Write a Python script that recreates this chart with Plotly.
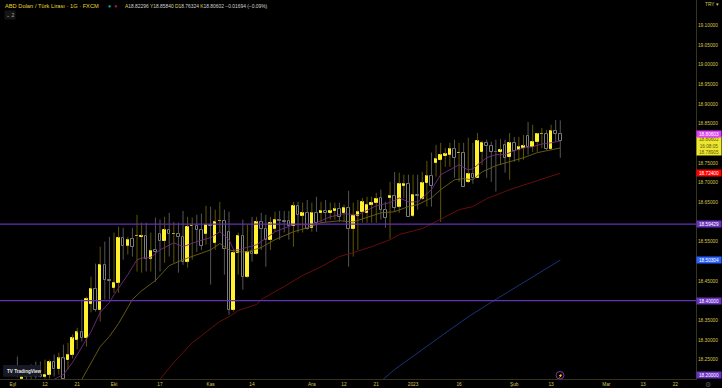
import plotly.graph_objects as go

bar_index = list(range(-6, 113))
opens = [18.212,18.202,18.207,18.210,18.210,18.210,18.207,18.212,18.245,18.225,18.253,18.248,18.263,18.301,18.319,18.306,18.392,18.430,18.377,18.491,
18.453,18.433,18.446,18.560,18.540,18.557,18.563,18.562,18.565,18.507,18.529,18.570,18.552,18.580,18.569,18.570,18.562,18.499,18.589,18.590,
18.580,18.570,18.593,18.547,18.602,18.603,18.575,18.377,18.522,18.565,18.461,18.524,18.519,18.600,18.583,18.555,18.583,18.604,18.603,18.603,
18.590,18.641,18.616,18.623,18.585,18.623,18.623,18.628,18.623,18.628,18.633,18.623,18.636,18.583,18.616,18.626,18.623,18.644,18.649,18.661,
18.631,18.661,18.667,18.639,18.692,18.697,18.616,18.669,18.659,18.699,18.717,18.750,18.758,18.768,18.771,18.786,18.774,18.776,18.702,18.722,
18.712,18.778,18.801,18.793,18.778,18.778,18.796,18.765,18.801,18.783,18.788,18.819,18.791,18.804,18.823,18.824,18.786,18.831,18.823]
highs = [18.258,18.220,18.235,18.238,18.245,18.245,18.250,18.250,18.263,18.268,18.288,18.293,18.314,18.331,18.403,18.410,18.461,18.494,18.537,18.550,
18.562,18.573,18.588,18.585,18.562,18.585,18.618,18.598,18.598,18.573,18.611,18.606,18.613,18.623,18.600,18.598,18.628,18.613,18.611,18.618,
18.621,18.641,18.639,18.631,18.651,18.631,18.626,18.529,18.573,18.606,18.593,18.613,18.613,18.623,18.618,18.613,18.626,18.628,18.628,18.628,
18.651,18.651,18.649,18.656,18.649,18.664,18.651,18.656,18.649,18.649,18.649,18.644,18.679,18.649,18.656,18.661,18.664,18.664,18.674,18.682,
18.651,18.702,18.727,18.725,18.720,18.720,18.720,18.720,18.727,18.755,18.776,18.796,18.801,18.788,18.801,18.809,18.801,18.801,18.814,18.801,
18.826,18.806,18.809,18.804,18.809,18.811,18.809,18.826,18.816,18.816,18.821,18.854,18.847,18.826,18.839,18.834,18.847,18.859,18.858]
lows = [18.205,18.200,18.200,18.200,18.202,18.205,18.202,18.202,18.207,18.212,18.200,18.225,18.253,18.276,18.296,18.283,18.370,18.372,18.347,18.403,
18.403,18.420,18.420,18.504,18.517,18.512,18.474,18.471,18.474,18.474,18.448,18.474,18.496,18.512,18.496,18.471,18.491,18.484,18.504,18.524,
18.529,18.542,18.441,18.529,18.573,18.466,18.364,18.372,18.466,18.428,18.458,18.499,18.517,18.529,18.486,18.529,18.575,18.555,18.573,18.555,
18.537,18.573,18.573,18.580,18.575,18.575,18.598,18.600,18.606,18.606,18.600,18.600,18.486,18.512,18.529,18.598,18.598,18.598,18.598,18.606,
18.585,18.557,18.626,18.623,18.661,18.613,18.613,18.631,18.656,18.639,18.639,18.715,18.600,18.740,18.740,18.712,18.702,18.689,18.699,18.697,
18.712,18.745,18.712,18.702,18.677,18.745,18.725,18.707,18.753,18.753,18.758,18.771,18.778,18.778,18.788,18.783,18.783,18.804,18.763]
closes = [18.210,18.207,18.205,18.205,18.207,18.207,18.212,18.243,18.225,18.253,18.202,18.263,18.304,18.319,18.306,18.405,18.430,18.377,18.491,18.453,
18.451,18.446,18.560,18.540,18.555,18.537,18.565,18.565,18.507,18.527,18.524,18.552,18.580,18.570,18.570,18.562,18.499,18.588,18.590,18.580,
18.540,18.593,18.590,18.600,18.603,18.532,18.377,18.522,18.565,18.461,18.524,18.519,18.600,18.583,18.555,18.598,18.606,18.602,18.600,18.590,
18.641,18.618,18.623,18.583,18.623,18.598,18.628,18.623,18.628,18.633,18.613,18.636,18.583,18.616,18.626,18.651,18.644,18.649,18.659,18.631,
18.611,18.667,18.636,18.697,18.697,18.613,18.669,18.667,18.699,18.717,18.692,18.760,18.771,18.773,18.786,18.763,18.776,18.689,18.722,18.712,
18.806,18.801,18.793,18.778,18.777,18.783,18.763,18.801,18.781,18.791,18.793,18.791,18.804,18.824,18.824,18.786,18.831,18.824,18.806]

ema_fast_x = [2,4,6,8,10,12,14,15,18,20,21,23,25,28,30,33,36,38,40,41,42,46,50,54,58,62,65,68,72,75,77,79,81,82,84,86,88,90,92,93,94,96,98,100,102,104,106,108,110,112]
ema_fast_y = [18.200,18.212,18.243,18.283,18.321,18.370,18.395,18.415,18.466,18.504,18.508,18.510,18.529,18.547,18.537,18.550,18.560,18.575,18.555,18.529,18.529,18.542,18.575,18.593,18.593,18.613,18.621,18.618,18.641,18.649,18.661,18.651,18.651,18.661,18.682,18.720,18.732,18.745,18.732,18.735,18.745,18.763,18.771,18.771,18.781,18.788,18.791,18.798,18.801,18.806]
ema_mid_x = [8,10,12,14,16,19,21,24,27,30,33,36,38,40,42,44,47,50,54,57,60,64,67,70,73,76,79,81,84,86,89,91,93,95,98,101,104,107,110,112]
ema_mid_y = [18.200,18.243,18.283,18.309,18.342,18.403,18.425,18.451,18.489,18.504,18.517,18.529,18.545,18.529,18.524,18.524,18.535,18.555,18.575,18.585,18.598,18.603,18.600,18.611,18.623,18.626,18.639,18.644,18.661,18.682,18.707,18.710,18.707,18.727,18.743,18.753,18.763,18.776,18.783,18.788]
ema_slow_x = [25,28,32,35,38,40,42,46,47,52,56,60,64,67,71,75,77,82,84,86,90,93,96,101,106,112]
ema_slow_y = [18.200,18.243,18.293,18.321,18.347,18.359,18.375,18.390,18.403,18.436,18.464,18.486,18.512,18.522,18.537,18.555,18.568,18.583,18.595,18.605,18.631,18.639,18.659,18.682,18.702,18.724]
ema_long_x = [73.5,76,88,92.4,97,105,112]
ema_long_y = [18.200,18.225,18.326,18.362,18.396,18.453,18.503]

level_lines = [18.59429, 18.40000]
y_ticks = [18.25,18.30,18.35,18.45,18.55,18.65,18.70,18.75,18.85,18.90,18.95,19.00,19.05,19.10]
x_tick_pos = [-7,0,7,15,25,36,45,58,65,72,80,90,102,110,122,130,137]
x_tick_text = ["Eyl","12","21","Eki","17","Kas","14","Ara","12","21","2023","16","Şub","13","Mar","13","22"]

BG = "#000000"
YEL = "#fff12b"
TICK = "#d6c64a"
AX = "#37321a"
FONT = "Liberation Sans"

ups = [c >= o for o, c in zip(opens, closes)]

def wicks(want_up):
    xs, ys = [], []
    for x, o, h, l, c, u in zip(bar_index, opens, highs, lows, closes, ups):
        if u == want_up:
            top, bot = max(o, c), min(o, c)
            xs += [x, x, None, x, x, None]
            ys += [h, top, None, bot, l, None]
    return xs, ys

fig = go.Figure()
for up, col in ((True, "#5f5500"), (False, "#555555")):
    wx, wy = wicks(up)
    fig.add_trace(go.Scatter(x=wx, y=wy, mode="lines", line=dict(color=col, width=1), hoverinfo="skip", showlegend=False))

for want_up, fill, edge in ((True, YEL, YEL), (False, "#000000", "#7d7d7d")):
    idx = [k for k, u in enumerate(ups) if u == want_up]
    fig.add_trace(go.Bar(
        x=[bar_index[k] for k in idx],
        y=[abs(closes[k] - opens[k]) for k in idx],
        base=[min(opens[k], closes[k]) for k in idx],
        width=0.55,
        marker=dict(color=fill, line=dict(color=edge, width=1)),
        hoverinfo="skip", showlegend=False))

for xs, ys, col in ((ema_long_x, ema_long_y, "#1a3a85"), (ema_slow_x, ema_slow_y, "#701010"),
                    (ema_mid_x, ema_mid_y, "#6e6219"), (ema_fast_x, ema_fast_y, "#742a82")):
    fig.add_trace(go.Scatter(x=xs, y=ys, mode="lines", line=dict(color=col, width=0.9), hoverinfo="skip", showlegend=False))

shapes = [dict(type="line", xref="paper", x0=0, x1=1, yref="y", y0=v, y1=v,
               line=dict(color="#6430b4", width=1.2), layer="above") for v in level_lines]
shapes += [
    dict(type="rect", xref="x", yref="paper", x0=-9.1, x1=-1.0, y0=0.006, y1=0.037, fillcolor="#171a26", line_width=0, layer="above"),
]
fig.update_layout(
    width=722, height=388, margin=dict(l=0, r=26, t=0, b=9),
    paper_bgcolor=BG, plot_bgcolor=BG, barmode="overlay", bargap=0, showlegend=False,
    font=dict(family=FONT, size=4.6, color=TICK), hovermode=False, shapes=shapes,
    xaxis=dict(range=[-9.78, 141.5], tickmode="array", tickvals=x_tick_pos, ticktext=x_tick_text,
               showgrid=False, zeroline=False, showline=True, linecolor=AX, linewidth=1, ticks="", tickangle=0,
               tickfont=dict(size=4.8, color=TICK), fixedrange=True),
    yaxis=dict(range=[18.2008, 19.164], side="right", tickmode="array", tickvals=y_ticks,
               ticktext=[f"{v:.5f}" for v in y_ticks], showgrid=False, zeroline=False,
               showline=True, linecolor=AX, linewidth=1, ticks="", tickfont=dict(size=4.8, color=TICK), fixedrange=True),
)

def price_tag(v, text, bg, fg="#ffffff", h=6):
    fig.add_annotation(xref="paper", x=1.0005, xanchor="left", yref="y", y=v, yanchor="middle", text=text,
                       showarrow=False, bgcolor=bg, width=24, height=h, borderpad=0, align="center",
                       font=dict(size=4.7, color=fg, family=FONT))

price_tag(18.59429, "18.59429", "#6a33bd")
price_tag(18.50304, "18.50304", "#2962ff")
price_tag(18.40000, "18.40000", "#6a33bd")
price_tag(18.2098, "18.20000", "#6a33bd")
price_tag(18.72400, "18.72400", "#ff0000")
price_tag(18.792, "18.80602<br>16:08:05<br>18.78905", "#ece62e", "#5d5a10", h=18)
price_tag(18.823, "18.80603", "#e040fb")

def label(x, y, text, size=4.6, color=TICK, xanchor="left", **kw):
    fig.add_annotation(xref="paper", yref="paper", x=x / 696, y=1 - y / 379, xanchor=xanchor, yanchor="middle",
                       text=text, showarrow=False, font=dict(size=size, color=color, family=FONT), **kw)

label(3, 6, "ABD Doları / Türk Lirası · 1G · FXCM", size=5.7, color="#e6d72c")
V = '<span style="color:#d2d2d2">%s</span>'
label(123, 6, "A" + V % "18.82296" + " Y" + V % "18.85840" + " D" + V % "18.76324" + " K" + V % "18.80602" + " " + V % "−0.01694 (−0.09%)",
      size=4.9, color="#e6d72c")
label(105.5, 6, "●", size=5.5, color="#0aa58f")
label(112, 6, "●", size=5.5, color="#a01a4f")
label(4, 15.5, "⌄ 2", size=5, color="#a8a8a8", bgcolor="#151515", borderpad=1)
label(5, 371.5, "<b>TV</b> <b>TradingView</b>", size=4.6, color="#e8e8e8")
label(560, 375.5, "⚡", size=4, color="#8a3fb5", xanchor="center")
fig.add_shape(type="circle", xref="paper", yref="paper", x0=556/696, x1=564/696, y0=0, y1=1-371.5/379,
              line=dict(color="#7a35a8", width=1), layer="above")
label(703, 4.6, "TRY ▾", size=4.8)
fig.add_annotation(xref="paper", yref="paper", x=708/696, y=-5/379, xanchor="center", yanchor="middle", text="⚙",
                   showarrow=False, font=dict(size=7, color="#555555"))

fig.write_html("out.html", config=dict(displayModeBar=False),
               post_script="document.body.style.margin='0';document.body.style.overflow='hidden';")
